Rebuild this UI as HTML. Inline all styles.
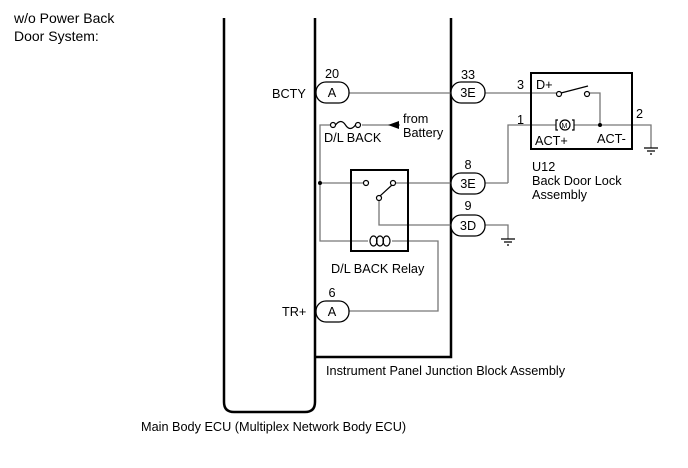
<!DOCTYPE html>
<html><head><style>
body{margin:0;background:#fff}
svg text{font-family:"Liberation Sans",Arial,sans-serif;font-size:12.7px;fill:#000}
</style></head><body>
<svg width="688" height="463" viewBox="0 0 688 463" xmlns="http://www.w3.org/2000/svg">
<rect width="688" height="463" fill="#fff"/>
<text x="14" y="23" style="font-size:14px">w/o Power Back</text>
<text x="14" y="41" style="font-size:14px">Door System:</text>
<path d="M224,18 V402 Q224,412 234,412 H305 Q315,412 315,402 V18" fill="none" stroke="#000" stroke-width="2.5"/>
<path d="M315,357 H451 V18" fill="none" stroke="#000" stroke-width="2.5"/>
<g fill="none" stroke="#777" stroke-width="1.3">
<path d="M349,93 H451"/>
<path d="M485,93 H556"/>
<path d="M590,93 H600 V125"/>
<path d="M508,183 V125 H556 M574,125 H651 V148"/>
<path d="M485,183 H508"/>
<path d="M485,225 H508 V239"/>
<path d="M400,125 H362 M330,125 H320 V241 H368 M392,241 H438 V311 H349"/>
<path d="M320,183 H363 M396,183 H451"/>
<path d="M379,200 V225 H451"/>
</g>
<g fill="none" stroke="#000" stroke-width="1.2">
<path d="M644,148 H658 M647,151 H655 M650,154 H652"/>
<path d="M501,239 H515 M504,242 H512 M507,245 H509"/>
<circle cx="333" cy="125" r="2.5" fill="#fff"/><circle cx="358" cy="125" r="2.5" fill="#fff"/>
<path d="M335.5,125 Q341,118 345.5,125 T355.5,125"/>
<circle cx="366" cy="183" r="2.5" fill="#fff"/><circle cx="393" cy="183" r="2.5" fill="#fff"/>
<circle cx="379" cy="198" r="2.5" fill="#fff"/>
<path d="M380,196 L392,185"/>
<ellipse cx="373.5" cy="241" rx="3.5" ry="5"/>
<ellipse cx="380" cy="241" rx="3.5" ry="5"/>
<ellipse cx="386.5" cy="241" rx="3.5" ry="5"/>
<circle cx="559" cy="94" r="2.5" fill="#fff"/><circle cx="587" cy="94" r="2.5" fill="#fff"/>
<path d="M561,93 L588,86"/>
<path d="M558,120 H556 V130 H558 M572,120 H574 V130 H572"/>
<circle cx="565" cy="125" r="5" fill="#fff"/>
</g>
<text x="561.5" y="128" style="font-size:7px">M</text>
<circle cx="320" cy="183" r="2" fill="#000"/>
<circle cx="600" cy="125" r="2" fill="#000"/>
<path d="M388,125 L399,121 V129 Z" fill="#000"/>
<rect x="351" y="170" width="57" height="81" fill="none" stroke="#000" stroke-width="2"/>
<rect x="531" y="73" width="101" height="76" fill="none" stroke="#000" stroke-width="2"/>
<g fill="#fff" stroke="#000" stroke-width="1.3">
<rect x="316" y="82" width="33" height="21" rx="10"/>
<rect x="451" y="82" width="34" height="21" rx="10"/>
<rect x="451" y="173" width="34" height="21" rx="10"/>
<rect x="451" y="215" width="34" height="21" rx="10"/>
<rect x="316" y="301" width="33" height="21" rx="10"/>
</g>
<g text-anchor="middle">
<text x="332" y="97">A</text><text x="332" y="78">20</text>
<text x="468" y="97">3E</text><text x="468" y="79">33</text>
<text x="468" y="188">3E</text><text x="468" y="169">8</text>
<text x="468" y="230">3D</text><text x="468" y="210">9</text>
<text x="332" y="316">A</text><text x="332" y="297">6</text>
</g>
<text x="272" y="98">BCTY</text>
<text x="282" y="316">TR+</text>
<text x="324" y="142">D/L BACK</text>
<text x="403" y="123">from</text>
<text x="403" y="137">Battery</text>
<text x="331" y="273">D/L BACK Relay</text>
<text x="326" y="375">Instrument Panel Junction Block Assembly</text>
<text x="141" y="431">Main Body ECU (Multiplex Network Body ECU)</text>
<text x="517" y="89">3</text><text x="536" y="89">D+</text>
<text x="517" y="124">1</text>
<text x="636" y="118">2</text>
<text x="535" y="145">ACT+</text><text x="597" y="143">ACT-</text>
<text x="532" y="171">U12</text>
<text x="532" y="185">Back Door Lock</text>
<text x="532" y="199">Assembly</text>
</svg>
</body></html>
